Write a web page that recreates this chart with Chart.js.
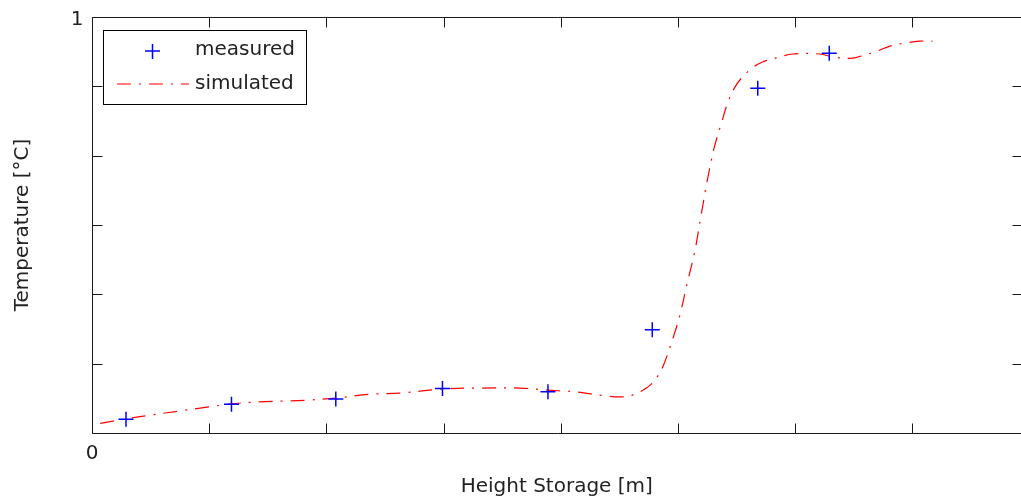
<!DOCTYPE html>
<html>
<head>
<meta charset="utf-8">
<script src="https://cdn.jsdelivr.net/npm/chart.js@4"></script>
<style>
  html, body { margin: 0; padding: 0; background: #fff; overflow: hidden; }
</style>
</head>
<body>
<canvas id="myChart" width="1024" height="499"></canvas>
<script>
// measured points
const measuredX = [0.29, 1.19, 2.08, 2.99, 3.89, 4.78, 5.68, 6.29];
const measuredY = [0.033, 0.069, 0.082, 0.107, 0.099, 0.248, 0.829, 0.913];

// simulated curve
const simX = [0.07, 0.29, 0.50, 0.75, 0.98, 1.19, 1.43, 1.69, 1.84, 2.08, 2.37, 2.63, 3.00, 3.31, 3.65, 3.89,
              4.12, 4.39, 4.53, 4.61, 4.73, 4.81, 4.87, 4.96, 5.02, 5.07, 5.14, 5.20, 5.25, 5.31, 5.37, 5.42,
              5.48, 5.54, 5.63, 5.72, 5.83, 5.98, 6.21, 6.32, 6.49, 6.59, 6.68, 6.81, 6.95, 7.06, 7.17];
const simY = [0.023, 0.034, 0.043, 0.053, 0.062, 0.070, 0.075, 0.077, 0.079, 0.084, 0.093, 0.096, 0.106, 0.108, 0.108, 0.103,
              0.099, 0.089, 0.087, 0.091, 0.108, 0.130, 0.159, 0.231, 0.288, 0.351, 0.433, 0.529, 0.608, 0.688, 0.745, 0.791,
              0.829, 0.853, 0.877, 0.892, 0.901, 0.911, 0.911, 0.904, 0.901, 0.909, 0.916, 0.930, 0.938, 0.942, 0.942];

const seriesNames = ['measured', 'simulated'];
const xTickLabel = '0';   // only label on x axis (at x = 0)
const yTickLabel = '1';   // only label on y axis (at y = 1)

const FONT = { family: 'DejaVu Sans', size: 20 };
const TXT = '#222';

// matlab style box, inward ticks, the two tick labels and the legend
const boxPlugin = {
    id: 'matlabBox',
    afterDatasetsDraw(chart) {
        const ctx = chart.ctx;
        const a = chart.chartArea;
        const xs = chart.scales.x, ys = chart.scales.y;
        ctx.save();
        ctx.strokeStyle = '#1a1a1a';
        ctx.lineWidth = 1;
        const L = Math.round(a.left) + 0.5, R = Math.round(a.right) + 0.5;
        const T = Math.round(a.top) + 0.5, B = Math.round(a.bottom) + 0.5;
        ctx.beginPath();
        ctx.rect(L, T, R - L, B - T);
        xs.ticks.forEach(t => {
            const p = Math.round(xs.getPixelForValue(t.value)) + 0.5;
            ctx.moveTo(p, B); ctx.lineTo(p, B - 10);
            ctx.moveTo(p, T); ctx.lineTo(p, T + 10);
        });
        ys.ticks.forEach(t => {
            const p = Math.round(ys.getPixelForValue(t.value)) + 0.5;
            ctx.moveTo(L, p); ctx.lineTo(L + 10, p);
            ctx.moveTo(R, p); ctx.lineTo(R - 10, p);
        });
        ctx.stroke();

        ctx.fillStyle = TXT;
        ctx.font = FONT.size + 'px ' + FONT.family;
        ctx.textBaseline = 'middle';
        ctx.textAlign = 'center';
        ctx.fillText(xTickLabel, xs.getPixelForValue(0), B + 20);
        ctx.textAlign = 'right';
        ctx.fillText(yTickLabel, L - 9, ys.getPixelForValue(1) + 3);

        // legend box
        const lx = 103.5, ly = 30.5, lw = 203, lh = 74;
        ctx.fillStyle = '#fff';
        ctx.fillRect(lx, ly, lw, lh);
        ctx.strokeStyle = '#000';
        ctx.strokeRect(lx, ly, lw, lh);
        ctx.strokeStyle = '#0000ff';
        ctx.lineWidth = 1.5;
        ctx.beginPath();
        ctx.moveTo(145, 51); ctx.lineTo(160, 51);
        ctx.moveTo(152.5, 44); ctx.lineTo(152.5, 59);
        ctx.stroke();
        ctx.strokeStyle = '#ff0000';
        ctx.lineWidth = 1.2;
        ctx.setLineDash([14, 8, 2, 8]);
        ctx.beginPath();
        ctx.moveTo(117, 84); ctx.lineTo(189, 84);
        ctx.stroke();
        ctx.setLineDash([]);
        ctx.fillStyle = TXT;
        ctx.textAlign = 'left';
        ctx.fillText(seriesNames[0], 195, 50);
        ctx.fillText(seriesNames[1], 195, 84);
        ctx.restore();
    }
};

const ctx = document.getElementById('myChart');
new Chart(ctx, {
    type: 'scatter',
    data: {
        datasets: [{
            label: seriesNames[0],
            data: measuredX.map((x, i) => ({ x: x, y: measuredY[i] })),
            pointStyle: 'cross',
            pointRadius: 7.5,
            pointHoverRadius: 7.5,
            borderColor: '#0000ff',
            backgroundColor: '#0000ff',
            pointBorderWidth: 1.5,
            showLine: false,
            order: 0
        }, {
            label: seriesNames[1],
            data: simX.map((x, i) => ({ x: x, y: simY[i] })),
            showLine: true,
            borderColor: '#ff0000',
            borderWidth: 1.2,
            borderDash: [14, 8, 2, 8],
            pointRadius: 0,
            tension: 0.35,
            fill: false,
            order: 1
        }]
    },
    options: {
        responsive: false,
        animation: false,
        layout: { autoPadding: false, padding: { left: 0, right: 2.5, top: 17, bottom: 0 } },
        plugins: {
            legend: { display: false },
            tooltip: { enabled: false }
        },
        scales: {
            x: {
                type: 'linear',
                min: 0,
                max: 7.93,
                grid: { display: false },
                border: { display: false },
                ticks: { display: false, stepSize: 1, autoSkip: false },
                title: {
                    display: true,
                    text: 'Height Storage [m]',
                    color: TXT,
                    font: FONT,
                    padding: { top: 4, bottom: 0 }
                },
                afterFit: (s) => { s.height = 66; }
            },
            y: {
                type: 'linear',
                min: 0,
                max: 1,
                grid: { display: false },
                border: { display: false },
                ticks: { display: false, stepSize: 1 / 6, autoSkip: false },
                title: {
                    display: true,
                    text: 'Temperature [°C]',
                    color: TXT,
                    font: FONT,
                    padding: { top: 11, bottom: 0 }
                },
                afterFit: (s) => { s.width = 92; }
            }
        }
    },
    plugins: [boxPlugin]
});
</script>
</body>
</html>
